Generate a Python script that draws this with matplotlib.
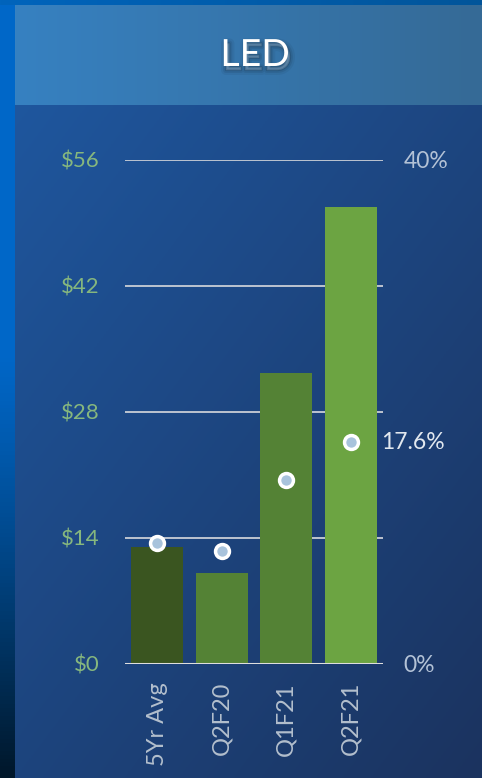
import numpy as np
import matplotlib
matplotlib.use("Agg")
import matplotlib.pyplot as plt
from matplotlib import patheffects as pe
from matplotlib.colors import to_rgb

plt.rcParams['font.family'] = ['Lato', 'DejaVu Sans']

categories = ["5Yr Avg", "Q2F20", "Q1F21", "Q2F21"]
bar_values = [13.0, 10.1, 32.3, 50.8]
pct_values = [9.6, 9.0, 14.6, 17.6]
bar_colors = ["#3a5520", "#548235", "#548235", "#6ca442"]
left_ticks = [0, 14, 28, 42, 56]
left_labels = ["$0", "$14", "$28", "$42", "$56"]
right_ticks = [0, 40]
right_labels = ["0%", "40%"]
title = "LED"
last_label = "17.6%"

W, H = 482, 778
fig = plt.figure(figsize=(W / 100, H / 100), dpi=100)

# background gradient
bg = fig.add_axes([0, 0, 1, 1])
bg.set_axis_off()
yy, xx = np.mgrid[0:1:200j, 0:1:200j]
t = np.clip(0.55 * yy + 0.45 * xx, 0, 1)
c0 = np.array(to_rgb("#1f5aa4"))
c1 = np.array(to_rgb("#1b335f"))
img = c0[None, None, :] * (1 - t[..., None]) + c1[None, None, :] * t[..., None]
bg.imshow(img, extent=[0, W, H, 0], aspect='auto', zorder=0)

# left strip
ys = np.linspace(0, 1, 200)
ts = np.clip((ys - 0.45) / 0.55, 0, 1) ** 1.2
s0 = np.array(to_rgb("#0067c8"))
s1 = np.array(to_rgb("#00172a"))
strip = s0[None, :] * (1 - ts[:, None]) + s1[None, :] * ts[:, None]
bg.imshow(strip[:, None, :], extent=[0, 15, H, 0], aspect='auto', zorder=1)

# top strip
xs = np.linspace(0, 1, 200)
top0 = np.array(to_rgb("#0064bc"))
top1 = np.array(to_rgb("#02559a"))
tstrip = top0[None, :] * (1 - xs[:, None]) + top1[None, :] * xs[:, None]
bg.imshow(tstrip[None, :, :], extent=[0, W, 5, 0], aspect='auto', zorder=1)

# title box
b0 = np.array(to_rgb("#3781c1"))
b1 = np.array(to_rgb("#356a96"))
tb = b0[None, :] * (1 - xs[:, None]) + b1[None, :] * xs[:, None]
bg.imshow(tb[None, :, :], extent=[15, W, 105, 5], aspect='auto', zorder=2)
bg.set_xlim(0, W)
bg.set_ylim(H, 0)

shadow = [
    pe.Stroke(linewidth=7, foreground='black', alpha=0.05, offset=(1.5, -3)),
    pe.Stroke(linewidth=4, foreground='black', alpha=0.08, offset=(1.5, -3)),
    pe.Stroke(linewidth=1.5, foreground='black', alpha=0.12, offset=(1.5, -3)),
    pe.Normal(),
]
fig.text(255 / W, 1 - 55 / H, title, color='white', fontsize=27,
         ha='center', va='center', path_effects=shadow)

# main chart
ax = fig.add_axes([125 / W, (H - 664) / H, (383 - 125) / W, 504 / H])
ax.patch.set_alpha(0)
x = np.arange(len(categories))
ax.bar(x, bar_values, width=0.8, color=bar_colors, zorder=2)
ax.set_xlim(-0.5, 3.5)
ax.set_ylim(0, 56)
for v in left_ticks[1:]:
    ax.axhline(v, color="#c9ced6", lw=1.3, zorder=1)
ax.axhline(0, color="#dedede", lw=2.2, zorder=3)
for s in ax.spines.values():
    s.set_visible(False)
ax.set_yticks(left_ticks)
ax.set_yticklabels(left_labels)
ax.tick_params(axis='y', length=0, pad=18, labelsize=16, labelcolor="#86b77e")
ax.set_xticks(x)
ax.set_xticklabels(categories, rotation=90, va='top', ha='center')
ax.tick_params(axis='x', length=0, pad=13, labelsize=17, labelcolor="#b3bfcd")

ax2 = ax.twinx()
ax2.set_ylim(0, 40)
ax2.plot(x, pct_values, linestyle='none', marker='o', markersize=10,
         markerfacecolor="#a8c3dc", markeredgecolor='white', markeredgewidth=2.5, zorder=5)
for s in ax2.spines.values():
    s.set_visible(False)
ax2.set_yticks(right_ticks)
ax2.set_yticklabels(right_labels)
ax2.tick_params(axis='y', length=0, pad=15, labelsize=16.5, labelcolor="#b3c2d6")
ax2.annotate(last_label, (x[-1], pct_values[-1]), xytext=(22, 0), textcoords='offset points',
             va='center', ha='left', color="#e2e8ef", fontsize=16.5, annotation_clip=False)

fig.savefig("out.png", dpi=100)
